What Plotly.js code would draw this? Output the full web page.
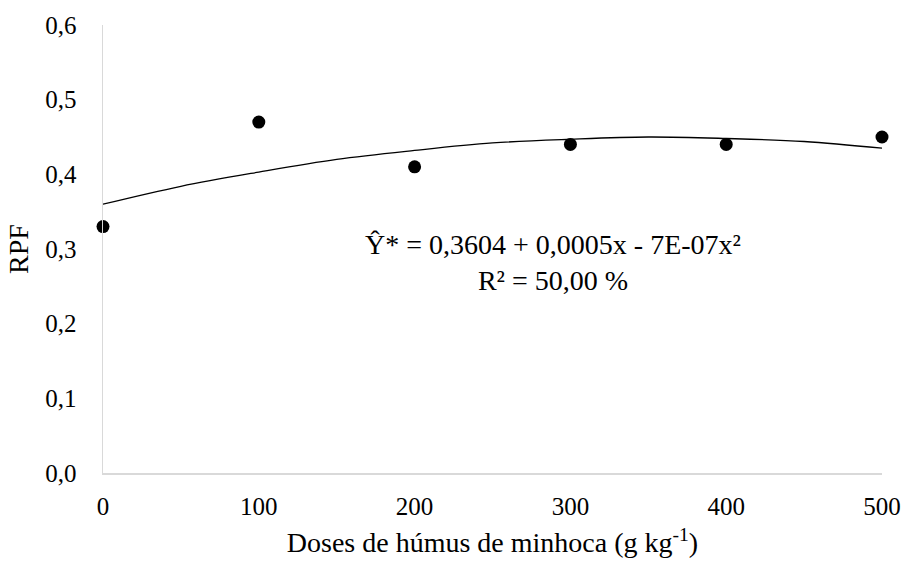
<!DOCTYPE html>
<html>
<head>
<meta charset="utf-8">
<script src="https://cdn.plot.ly/plotly-3.0.1.min.js"></script>
<style>html,body{margin:0;padding:0;background:#fff;}#chart{width:905px;height:565px;}</style>
</head>
<body>
<div id="chart"></div>
<script>
// Observed data
const doses = [0, 100, 200, 300, 400, 500];
const rpf = [0.33, 0.47, 0.41, 0.44, 0.44, 0.45];
// Trend curve
const trendX = [0, 50, 100, 150, 200, 250, 300, 350, 400, 450, 500];
const trendY = [0.360, 0.384, 0.403, 0.420, 0.432, 0.442, 0.447, 0.450, 0.448, 0.444, 0.435];
// Tick labels
const xTicks = [0, 100, 200, 300, 400, 500];
const yTicks = [0, 0.1, 0.2, 0.3, 0.4, 0.5, 0.6];
const yTickText = ['0,0', '0,1', '0,2', '0,3', '0,4', '0,5', '0,6'];
const eqText = 'Ŷ* = 0,3604 + 0,0005x - 7E-07x²<br>R² = 50,00 %';

const font = '"Liberation Serif", "Times New Roman", serif';
const traces = [
  {x: trendX, y: trendY, mode: 'lines', line: {color: '#000', width: 1.3, shape: 'spline'}, hoverinfo: 'skip', cliponaxis: false},
  {x: doses, y: rpf, mode: 'markers', marker: {color: '#000', size: 13}, cliponaxis: false}
];
const layout = {
  width: 905, height: 565,
  margin: {l: 103, r: 23, t: 25, b: 92},
  showlegend: false,
  paper_bgcolor: '#fff', plot_bgcolor: '#fff',
  font: {family: font, color: '#000', size: 25},
  xaxis: {
    range: [0, 500], tickvals: xTicks, ticktext: xTicks.map(String),
    showgrid: false, zeroline: false, showline: true, linecolor: '#d9d9d9', linewidth: 1.5,
    ticks: '', ticklen: 0, tickfont: {family: font, size: 25}, ticklabelstandoff: 10,
    title: {text: 'Doses de húmus de minhoca (g kg<sup>-1</sup>)', font: {family: font, size: 28}, standoff: 14}
  },
  yaxis: {
    range: [0, 0.6], tickvals: yTicks, ticktext: yTickText,
    showgrid: false, zeroline: false, showline: true, linecolor: '#d9d9d9', linewidth: 1.5,
    ticks: '', tickfont: {family: font, size: 25}, ticklabelstandoff: 20,
    title: {text: 'RPF', font: {family: font, size: 28}, standoff: 8}
  },
  annotations: [{
    x: 0.578, y: 0.55, xref: 'paper', yref: 'paper', yanchor: 'top', text: eqText, showarrow: false,
    align: 'center', font: {family: font, size: 28, color: '#000'}
  }]
};
Plotly.newPlot('chart', traces, layout, {displayModeBar: false, staticPlot: true});
</script>
</body>
</html>
